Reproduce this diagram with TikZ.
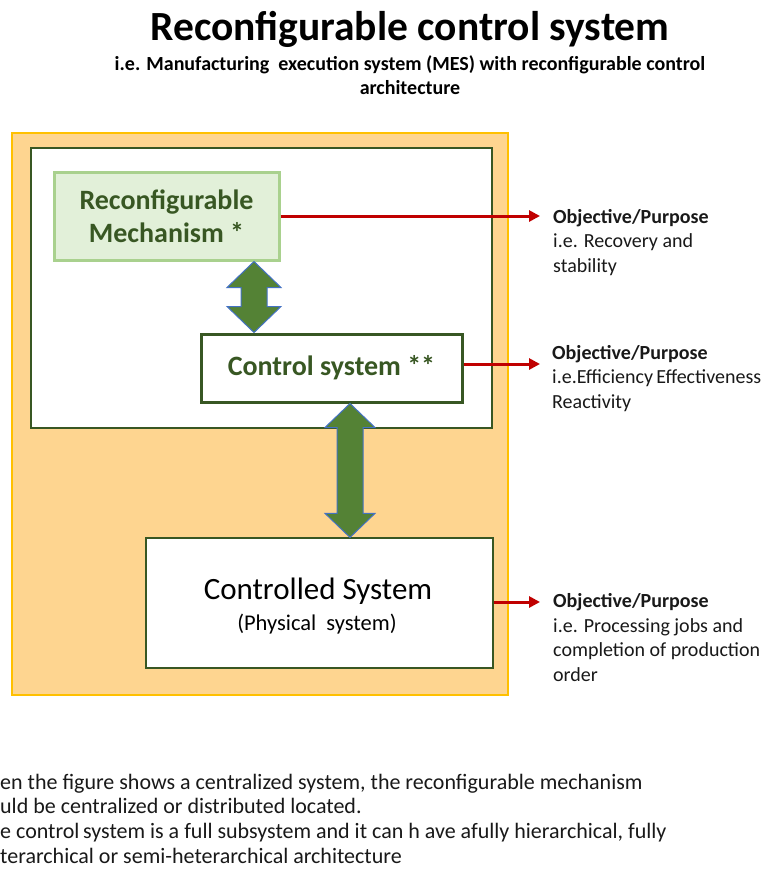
\documentclass[tikz,border=0pt]{standalone}
\usepackage{fontspec}
\setmainfont{Carlito}
\usetikzlibrary{arrows.meta,calc}
\definecolor{orfill}{HTML}{FED590}
\definecolor{orline}{HTML}{FFC000}
\definecolor{dgreen}{HTML}{385723}
\definecolor{lgfill}{HTML}{E2F0D9}
\definecolor{lgline}{HTML}{A9D18E}
\definecolor{agreen}{HTML}{548235}
\definecolor{ablue}{HTML}{4472C4}
\definecolor{redc}{HTML}{C00000}
\newcommand\dblarrow[6]{%
\draw[garrow] let \p1=(#2), \p2=(#3) in
 ({#1pt},{\y1}) -- ({#1pt+#4pt},{\y1-#6pt}) -- ({#1pt+#5pt},{\y1-#6pt}) -- ({#1pt+#5pt},{\y2+#6pt}) -- ({#1pt+#4pt},{\y2+#6pt}) -- ({#1pt},{\y2}) -- ({#1pt-#4pt},{\y2+#6pt}) -- ({#1pt-#5pt},{\y2+#6pt}) -- ({#1pt-#5pt},{\y1-#6pt}) -- ({#1pt-#4pt},{\y1-#6pt}) -- cycle;}
\begin{document}
\begin{tikzpicture}[x=1pt,y=-1pt,
  box/.style={draw, rectangle, inner sep=0pt, align=center},
  garrow/.style={fill=agreen, draw=ablue, line width=1pt, line join=miter},
  redarrow/.style={draw=redc, line width=3pt, -{Triangle[length=11pt,width=11pt]}},
  purp/.style={anchor=base west, align=left, inner sep=0pt, font=\fontsize{20}{24.5}\selectfont, text=black!90},
  note/.style={anchor=base west, inner sep=0pt, font=\fontsize{22}{25}\selectfont, text=black!90}]
\useasboundingbox (0,0) rectangle (773,872);
\fill[white] (0,0) rectangle (773,872);
% title
\node[anchor=base, inner sep=0pt, font=\bfseries\fontsize{41.5}{44}\selectfont] (title) at (410,41) {Reconfigurable control system};
\node[anchor=base, inner sep=0pt, align=center, font=\bfseries\fontsize{20}{24}\selectfont] (sub) at (410,95) {i.e. Manufacturing\ \ execution system (MES) with reconfigurable\ control\\architecture};
% frames
\node[box, fill=orfill, draw=orline, line width=1.5pt, minimum width=496pt, minimum height=562pt] (outer) at (260,414) {};
\node[box, fill=white, draw=dgreen, line width=1.2pt, minimum width=461pt, minimum height=280pt] (inner) at (261.5,288) {};
\node[box, fill=lgfill, draw=lgline, line width=3pt, minimum width=225pt, minimum height=88pt, text=dgreen, font=\bfseries\fontsize{28}{33}\selectfont] (mech) at (166.5,216) {Reconfigurable\\Mechanism *};
\node[box, fill=white, draw=dgreen, line width=3pt, minimum width=261pt, minimum height=68pt, text=dgreen, font=\bfseries\fontsize{28}{30}\selectfont] (ctrl) at (331.5,368) {Control system **};
\node[box, fill=white, draw=dgreen, line width=1.2pt, minimum width=347pt, minimum height=130pt] (plant) at (319.5,603) {};
\node[anchor=base, inner sep=0pt, font=\fontsize{31}{34}\selectfont] (plantt) at (318,599) {Controlled System};
\node[anchor=base, inner sep=0pt, font=\fontsize{22.5}{24}\selectfont] (plants) at (317,630) {(Physical\ \ system)};
% double arrows
\dblarrow{254}{mech.south}{ctrl.north}{27}{13}{26}
\dblarrow{350}{ctrl.south}{plant.north}{25}{13}{24}
% red arrows
\coordinate (o1) at (540,216);
\coordinate (o2) at (540,364);
\coordinate (o3) at (540,602);
\draw[redarrow] (mech.east |- o1) -- (o1);
\draw[redarrow] (ctrl.east |- o2) -- (o2);
\draw[redarrow] (plant.east |- o3) -- (o3);
% purposes
\node[purp] (p1) at (553,272) {\textbf{Objective/Purpose}\\i.e. Recovery and\\stability};
\node[purp] (p2) at (552,408) {\textbf{Objective/Purpose}\\i.e.Efficiency\,Effectiveness\\Reactivity};
\node[purp] (p3) at (553,681) {\textbf{Objective/Purpose}\\i.e. Processing jobs and\\completion of production\\order};
% notes
\node[note] (n1) at (0,789) {en the figure shows a centralized system, the reconfigurable mechanism};
\node[note] (n2) at (0,813) {uld be centralized or distributed located.};
\node[note] (n3) at (0,838) {e control\,system is a full subsystem and it can h ave afully hierarchical, fully};
\node[note] (n4) at (0,863) {terarchical or semi-heterarchical architecture};
\end{tikzpicture}
\end{document}
